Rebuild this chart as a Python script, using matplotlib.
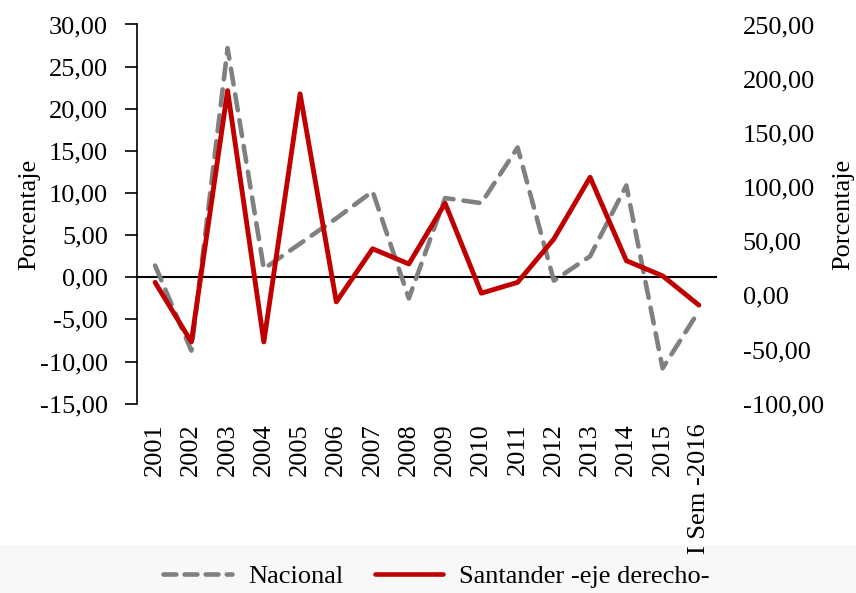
import matplotlib.pyplot as plt
from matplotlib.patches import Rectangle
from matplotlib.lines import Line2D

plt.rcParams['font.family'] = ['Liberation Serif', 'DejaVu Serif']

# Data
years = ['2001', '2002', '2003', '2004', '2005', '2006', '2007', '2008',
         '2009', '2010', '2011', '2012', '2013', '2014', '2015', 'I Sem -2016']
nacional = [1.4, -8.7, 27.2, 1.0, 4.0, 7.0, 10.2, -2.5,
            9.4, 8.8, 15.4, -0.4, 2.5, 10.9, -10.8, -4.0]
santander = [12, -43, 189, -43, 186, -6, 43, 29,
             85, 2, 12, 52, 109, 32, 18, -9]

left_ticks = [-15, -10, -5, 0, 5, 10, 15, 20, 25, 30]
right_ticks = [-100, -50, 0, 50, 100, 150, 200, 250]

gray = '#808080'
red = '#C00000'
fs = 19
dash = (0, (3.5, 2.2))

fig = plt.figure(figsize=(8.56, 5.93), dpi=100)
fig.patches.append(Rectangle((0, 0), 1, 1 - 545 / 593, transform=fig.transFigure,
                             facecolor='#f8f8f8', edgecolor='none', zorder=-1))

ax = fig.add_axes([0.160, 0.3192, 0.6776, 0.6395])
ax.patch.set_alpha(0)
x = list(range(len(years)))

ax.axhline(0, color='black', lw=1.5, zorder=1)
ax.plot(x, nacional, color=gray, lw=3.3, linestyle=dash,
        dash_capstyle='round', zorder=2)
ax.set_ylim(-15, 30)
ax.set_xlim(-0.5, len(years) - 0.5)
ax.set_yticks(left_ticks)
ax.set_yticklabels([('%.2f' % v).replace('.', ',') for v in left_ticks])
ax.set_xticks(x)
ax.set_xticklabels(years, rotation=90)
ax.tick_params(axis='x', length=0, pad=14, labelsize=fs)
ax.tick_params(axis='y', length=9, width=1.2, pad=12, labelsize=fs)
for s in ['top', 'right', 'bottom']:
    ax.spines[s].set_visible(False)
ax.spines['left'].set_linewidth(1.2)
ax.set_ylabel('Porcentaje', fontsize=fs, labelpad=0)

ax2 = ax.twinx()
ax2.plot(x, santander, color=red, lw=3.5, solid_capstyle='round', zorder=3)
ax2.set_ylim(-100, 250)
ax2.set_yticks(right_ticks)
ax2.set_yticklabels([('%.2f' % v).replace('.', ',') for v in right_ticks])
ax2.tick_params(axis='y', length=0, pad=18.5, labelsize=fs)
for s in ['top', 'right', 'bottom', 'left']:
    ax2.spines[s].set_visible(False)
ax2.set_ylabel('Porcentaje', fontsize=fs, labelpad=6)

handles = [Line2D([], [], color=gray, lw=3.3, linestyle=(0, (2.8, 1.8)), dash_capstyle='round'),
           Line2D([], [], color=red, lw=3.3, solid_capstyle='round')]
fig.legend(handles, ['Nacional', 'Santander -eje derecho-'], loc='center',
           bbox_to_anchor=(0.51, 0.028), ncol=2, frameon=False, fontsize=fs,
           handlelength=2.6, columnspacing=1.2, handletextpad=0.6)

fig.savefig('out.png', dpi=100)
